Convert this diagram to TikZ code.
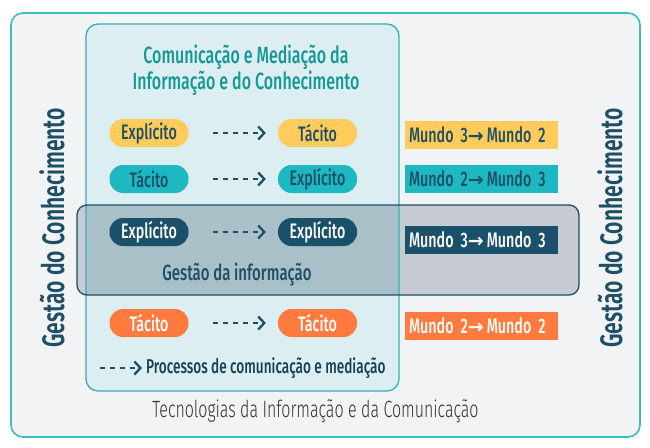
\documentclass[tikz,border=0pt]{standalone}
\usepackage{fontspec}
\setmainfont{Fira Sans}[FakeStretch=0.68]
\newfontfamily\fmed{Fira Sans Medium}[FakeStretch=0.68]
\newfontfamily\flight{Fira Sans Light}[FakeStretch=0.68]
\newfontfamily\fsemi{Fira Sans SemiBold}[FakeStretch=0.68]
\newfontfamily\farr{DejaVu Sans Bold}
\usetikzlibrary{arrows.meta}
\definecolor{navy}{HTML}{1D4F66}
\definecolor{teallight}{HTML}{3DBBC2}
\definecolor{panelfill}{HTML}{DCEEF1}
\definecolor{panelline}{HTML}{3AAFB5}
\definecolor{titlecol}{HTML}{149893}
\definecolor{cyel}{HTML}{FFCB5B}
\definecolor{cteal}{HTML}{1DB8C2}
\definecolor{cnavy}{HTML}{1A506A}
\definecolor{corange}{HTML}{FF7A3F}
\definecolor{bggray}{HTML}{F2F3F4}
\definecolor{gestfill}{HTML}{C6CBD4}
\definecolor{gestover}{HTML}{A9C0C8}
\newcommand{\marr}{{\farr\fontsize{19}{18}\selectfont →\hspace{3pt}}}
\tikzset{
  pill/.style={rounded corners=13.5pt, minimum width=79pt, minimum height=28pt, inner sep=0pt, font=\fmed\fontsize{21}{22}\selectfont},
  mbox/.style={minimum width=153pt, minimum height=28pt, inner sep=0pt, text width=145pt, align=left, font=\fmed\fontsize{21}{22}\selectfont},
  darr/.style={navy, line width=2.3pt, dash pattern=on 5pt off 5pt, -{Straight Barb[length=6pt,width=13pt,line width=2.3pt]}},
  vtext/.style={navy, rotate=90, font=\fsemi\fontsize{31}{32}\selectfont}
}
\begin{document}
\begin{tikzpicture}[x=1pt,y=-1pt]
\useasboundingbox (0,0) rectangle (650,447);
% outer
\draw[teallight, line width=1.6pt, fill=bggray, rounded corners=12pt] (11,13) rectangle (640,437);
% panel
\fill[panelfill, rounded corners=12pt] (86,24) rectangle (399,391);
% gestao box
\fill[gestfill, rounded corners=10pt] (77,205) rectangle (579,295);
\begin{scope}
  \clip[rounded corners=12pt] (86,24) rectangle (399,391);
  \fill[gestover, rounded corners=10pt] (77,205) rectangle (579,295);
\end{scope}
\draw[panelline, line width=1.3pt, rounded corners=12pt] (86,24) rectangle (399,391);
\draw[navy, line width=1.3pt, rounded corners=10pt] (77,205) rectangle (579,295);
% title
\node[titlecol, align=center, font=\fmed\fontsize{23.5}{21}\selectfont] (title) at (246,70) {Comunicação e Mediação da\\Informação e do Conhecimento};
% rows
\node[pill, fill=cyel, text=navy] (a1) at (149,133) {Explícito};
\node[pill, fill=cyel, text=navy] (b1) at (317.5,133) {Tácito};
\node[pill, fill=cteal, text=navy] (a2) at (149,179) {Tácito};
\node[pill, fill=cteal, text=navy] (b2) at (317.5,179) {Explícito};
\node[pill, fill=cnavy, text=white] (a3) at (149,232) {Explícito};
\node[pill, fill=cnavy, text=white] (b3) at (317.5,232) {Explícito};
\node[pill, fill=corange, text=white] (a4) at (149,323) {Tácito};
\node[pill, fill=corange, text=white] (b4) at (317.5,323) {Tácito};
\foreach \i in {1,2,3,4}{
  \coordinate (s\i) at ([xshift=24pt]a\i.east);
  \coordinate (e\i) at ([xshift=-12pt]b\i.west);
  \draw[darr] (s\i) -- (e\i);
}
% mundo boxes
\node[mbox, fill=cyel, text=navy] (m1) at (481.5,134.5) {Mundo 3\marr Mundo 2};
\node[mbox, fill=cteal, text=navy] (m2) at (481.5,178.5) {Mundo 2\marr Mundo 3};
\node[mbox, fill=cnavy, text=white] (m3) at (481.5,240) {Mundo 3\marr Mundo 3};
\node[mbox, fill=corange, text=white] (m4) at (481.5,325.5) {Mundo 2\marr Mundo 2};
% labels
\node[navy, font=\fmed\fontsize{22}{23}\selectfont] (gi) at (237,275) {Gestão da informação};
\coordinate (ls) at (100,368);
\coordinate (le) at (142,368);
\draw[darr] (ls) -- (le);
\node[navy!80!black, anchor=west, inner sep=0pt, font=\fmed\fontsize{20}{21}\selectfont] (leg) at (146,368) {Processos de comunicação e mediação};
\node[black!80, font=\flight\fontsize{23.5}{24}\selectfont] (tic) at (315.5,411) {Tecnologias da Informação e da Comunicação};
\node[vtext] (gcl) at (52,228) {Gestão do Conhecimento};
\node[vtext] (gcr) at (610,228) {Gestão do Conhecimento};
\end{tikzpicture}
\end{document}
